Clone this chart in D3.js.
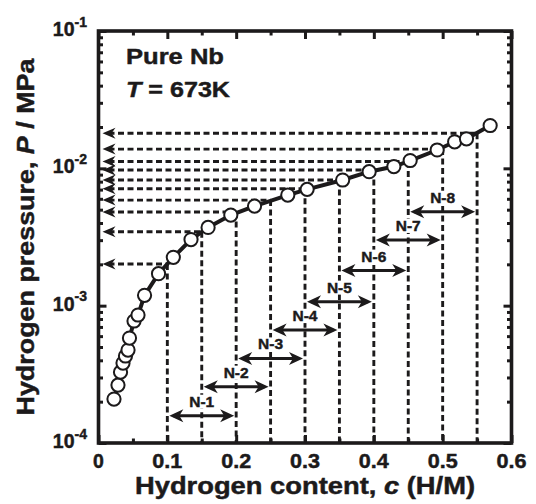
<!DOCTYPE html>
<html><head><meta charset="utf-8">
<script src="https://cdn.jsdelivr.net/npm/d3@7"></script>
<style>
body{margin:0;background:#fff}
svg{display:block}
text{font-family:"Liberation Sans",Arial,sans-serif;font-weight:bold;fill:#1c1a1b;stroke:#1c1a1b;stroke-width:0.45px}
</style>
</head><body>
<svg id="c" width="536" height="504"></svg>
<script>
// ---- data ----
const contentC = [0.0225,0.0283,0.0320,0.0356,0.0392,0.0429,0.0450,0.0516,0.0574,0.0669,0.0872,0.1087,0.1344,0.1592,0.1922,0.2267,0.2750,0.3031,0.3547,0.3932,0.4291,0.4528,0.4920,0.5174,0.5346,0.5690];
const pressureP = [2.09e-4,2.64e-4,3.28e-4,3.82e-4,4.30e-4,4.75e-4,5.81e-4,7.73e-4,8.55e-4,1.19e-3,1.71e-3,2.25e-3,3.03e-3,3.71e-3,4.57e-3,5.31e-3,6.39e-3,7.03e-3,8.22e-3,9.45e-3,1.03e-2,1.14e-2,1.36e-2,1.56e-2,1.64e-2,2.05e-2];
const guideC = [0.10,0.15,0.20,0.25,0.30,0.35,0.40,0.45,0.50,0.55];
const guideP = [2.01e-3,3.45e-3,4.81e-3,5.87e-3,7.10e-3,8.22e-3,9.72e-3,1.12e-2,1.38e-2,1.80e-2];
const rangeLabels = ["N-1","N-2","N-3","N-4","N-5","N-6","N-7","N-8"];
const rangeStart = [0.10,0.15,0.20,0.25,0.30,0.35,0.40,0.45];
const rangeEnd   = [0.20,0.25,0.30,0.35,0.40,0.45,0.50,0.55];
const rangeP = [1.58e-4,2.57e-4,4.13e-4,6.64e-4,1.07e-3,1.80e-3,3.01e-3,4.83e-3];
const xMajor = [0,0.1,0.2,0.3,0.4,0.5,0.6];
const xMinor = [0.05,0.15,0.25,0.35,0.45,0.55];
const xTickLabels = ["0","0.1","0.2","0.3","0.4","0.5","0.6"];
const yMajor = [1e-4,1e-3,1e-2,1e-1];
const yTickExp = ["-4","-3","-2","-1"];
const annotLines = ["Pure Nb","673K"];

// ---- chart ----
const ink = "#1c1a1b";
const x = d3.scaleLinear().domain([0,0.6]).range([98.5,511.5]);
const y = d3.scaleLog().domain([1e-4,1e-1]).range([443,31]);
const svg = d3.select("#c");

const dash = "6,3.5";
const g = svg.append("g");
g.selectAll("line.v").data(guideC).join("line").attr("class","v")
  .attr("x1",d=>x(d)).attr("x2",d=>x(d))
  .attr("y1",(d,i)=>y(guideP[i])).attr("y2",y(1e-4))
  .attr("stroke",ink).attr("stroke-width",2.9).attr("stroke-dasharray",dash);
g.selectAll("line.h").data(guideC).join("line").attr("class","h")
  .attr("x1",x(0)+10).attr("x2",d=>x(d))
  .attr("y1",(d,i)=>y(guideP[i])).attr("y2",(d,i)=>y(guideP[i]))
  .attr("stroke",ink).attr("stroke-width",2.9).attr("stroke-dasharray",dash);
g.selectAll("path.ah").data(guideP).join("path").attr("class","ah")
  .attr("transform",d=>`translate(${x(0)+4},${y(d)})`)
  .attr("d","M0,0L13,-5.5L9,0L13,5.5Z").attr("fill",ink);

const ra = svg.append("g");
const idx = d3.range(rangeLabels.length);
ra.selectAll("line").data(idx).join("line")
  .attr("x1",i=>x(rangeStart[i])+6).attr("x2",i=>x(rangeEnd[i])-6)
  .attr("y1",i=>y(rangeP[i])).attr("y2",i=>y(rangeP[i]))
  .attr("stroke",ink).attr("stroke-width",3);
ra.selectAll("path.l").data(idx).join("path").attr("class","l")
  .attr("transform",i=>`translate(${x(rangeStart[i])+2},${y(rangeP[i])})`)
  .attr("d","M0,0L14,-6.5L10,0L14,6.5Z").attr("fill",ink);
ra.selectAll("path.r").data(idx).join("path").attr("class","r")
  .attr("transform",i=>`translate(${x(rangeEnd[i])-2},${y(rangeP[i])})`)
  .attr("d","M0,0L-14,-6.5L-10,0L-14,6.5Z").attr("fill",ink);
const lab = ra.selectAll("g.lab").data(idx).join("g").attr("class","lab");
lab.append("rect");
lab.append("text")
  .attr("x",i=>x((rangeStart[i]+rangeEnd[i])/2)).attr("y",i=>y(rangeP[i])-9)
  .attr("text-anchor","middle").attr("font-size",15.5).text(i=>rangeLabels[i]);
lab.each(function(){
  const t=d3.select(this).select("text").node().getBBox();
  d3.select(this).select("rect").attr("x",t.x-1).attr("y",t.y+2).attr("width",t.width+2).attr("height",t.height-3).attr("fill","#fff");
});

svg.append("path").datum(d3.range(contentC.length))
  .attr("d",d3.line().x(i=>x(contentC[i])).y(i=>y(pressureP[i])))
  .attr("fill","none").attr("stroke",ink).attr("stroke-width",4);
svg.append("g").selectAll("circle").data(d3.range(contentC.length)).join("circle")
  .attr("cx",i=>x(contentC[i])).attr("cy",i=>y(pressureP[i])).attr("r",6.6)
  .attr("fill","#fff").attr("stroke",ink).attr("stroke-width",2);

const yMinor = y.ticks().filter(v=>!yMajor.some(m=>Math.abs(Math.log10(v)-Math.log10(m))<1e-6));
function ax(gen, tr){
  const s=svg.append("g").attr("transform",tr).call(gen);
  s.select(".domain").remove();
  s.selectAll("line").attr("stroke",ink).attr("stroke-width",3);
  s.selectAll("text").remove();
}
const MJ=-8, MN=-4.5;
ax(d3.axisBottom(x).tickValues(xMajor).tickSize(MJ),`translate(0,${y(1e-4)})`);
ax(d3.axisBottom(x).tickValues(xMinor).tickSize(MN),`translate(0,${y(1e-4)})`);
ax(d3.axisTop(x).tickValues(xMajor).tickSize(MJ),`translate(0,${y(1e-1)})`);
ax(d3.axisTop(x).tickValues(xMinor).tickSize(MN),`translate(0,${y(1e-1)})`);
ax(d3.axisLeft(y).tickValues(yMajor).tickSize(MJ),`translate(${x(0)},0)`);
ax(d3.axisLeft(y).tickValues(yMinor).tickSize(MN),`translate(${x(0)},0)`);
ax(d3.axisRight(y).tickValues(yMajor).tickSize(MJ),`translate(${x(0.6)},0)`);
ax(d3.axisRight(y).tickValues(yMinor).tickSize(MN),`translate(${x(0.6)},0)`);

svg.append("rect").attr("x",x(0)).attr("y",y(1e-1)).attr("width",x(0.6)-x(0)).attr("height",y(1e-4)-y(1e-1))
  .attr("fill","none").attr("stroke",ink).attr("stroke-width",3.6);

svg.append("g").selectAll("text").data(xMajor).join("text")
  .attr("x",d=>x(d)).attr("y",468).attr("text-anchor","middle").attr("font-size",19.5)
  .each(function(d,i){ const t=d3.select(this).text(xTickLabels[i]); if(xTickLabels[i].length>1) t.attr("textLength",30).attr("lengthAdjust","spacingAndGlyphs"); });
const yl = svg.append("g").selectAll("text").data(yMajor).join("text")
  .attr("x",87).attr("y",d=>y(d)+5).attr("text-anchor","end").attr("font-size",19.5);
yl.append("tspan").text("10");
yl.append("tspan").attr("dy",-9.5).attr("font-size",14).text((d,i)=>yTickExp[i]);

const xt = svg.append("text").attr("x",305).attr("y",494).attr("text-anchor","middle").attr("font-size",23)
  .attr("textLength",340).attr("lengthAdjust","spacingAndGlyphs");
xt.append("tspan").text("Hydrogen content, ");
xt.append("tspan").attr("font-style","italic").text("c");
xt.append("tspan").text(" (H/M)");
const yt = svg.append("text").attr("transform","translate(34,237) rotate(-90)").attr("text-anchor","middle").attr("font-size",24)
  .attr("textLength",357).attr("lengthAdjust","spacingAndGlyphs");
yt.append("tspan").text("Hydrogen pressure, ");
yt.append("tspan").attr("font-style","italic").text("P");
yt.append("tspan").text(" / MPa");

svg.append("text").attr("x",126).attr("y",63.5).attr("font-size",22).attr("textLength",98).attr("lengthAdjust","spacingAndGlyphs").text(annotLines[0]);
const t2 = svg.append("text").attr("x",126).attr("y",97).attr("font-size",22).attr("textLength",104).attr("lengthAdjust","spacingAndGlyphs");
t2.append("tspan").attr("font-style","italic").text("T");
t2.append("tspan").text(" = "+annotLines[1]);
</script>
</body></html>
